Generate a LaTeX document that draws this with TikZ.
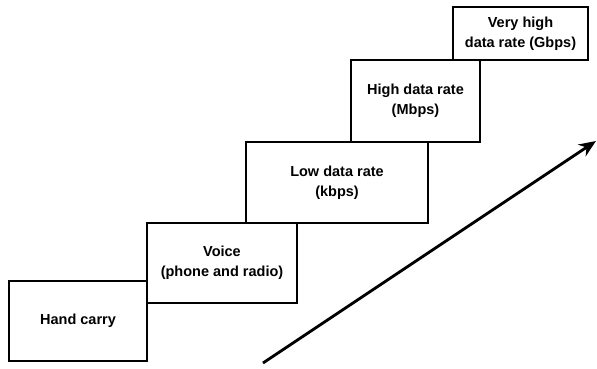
\documentclass[tikz,border=0pt]{standalone}
\usepackage{fontspec}
\setmainfont{Liberation Sans}
\usetikzlibrary{arrows.meta}
\begin{document}
\begin{tikzpicture}[x=1pt,y=-1pt,
  stepbox/.style={draw=black,line width=1.1pt,rectangle,inner sep=0pt,
    align=center,font=\fontsize{14.5}{20}\selectfont\bfseries},
  bigarrow/.style={line width=2.8pt,-{Stealth[length=17pt,width=14pt]}}]
\useasboundingbox (0,0) rectangle (597,368);
\node[stepbox,minimum width=138pt,minimum height=80pt] (b1) at (78,321) {Hand carry};
\node[stepbox,minimum width=150pt,minimum height=80pt] (b2) at (222,263) {Voice\\(phone and radio)};
\node[stepbox,minimum width=182pt,minimum height=81pt] (b3) at (337,182.5) {Low data rate\\(kbps)};
\node[stepbox,minimum width=129pt,minimum height=82pt] (b4) at (415.5,101) {High data rate\\(Mbps)};
\node[stepbox,minimum width=135pt,minimum height=53pt] (b5) at (520.5,33.5) {Very high\\data rate (Gbps)};
\coordinate (a0) at (263,363);
\coordinate (a1) at (596,141);
\draw[bigarrow] (a0) -- (a1);
\end{tikzpicture}
\end{document}
